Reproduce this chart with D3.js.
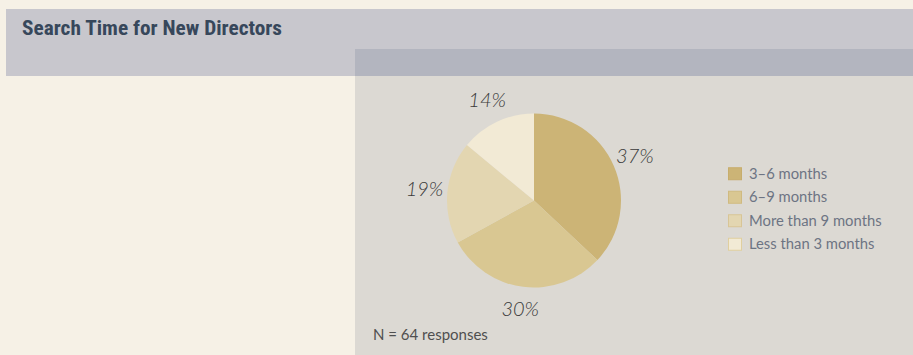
<!DOCTYPE html>
<html><head><meta charset="utf-8">
<script src="https://cdn.jsdelivr.net/npm/d3@7"></script>
<style>body{margin:0;background:#f6f1e6;}svg{display:block;}</style>
</head><body>
<svg id="c" width="913" height="355"></svg>
<script>
const title = "Search Time for New Directors";
const categories = ["3–6 months", "6–9 months", "More than 9 months", "Less than 3 months"];
const values = [37, 30, 19, 14];
const colors = ["#ccb476", "#d9c792", "#e3d6b1", "#f2ead5"];
const strokes = ["#c7ad6c", "#d0ba80", "#d8c596", "#e0cf9f"];
const note = "N = 64 responses";

const svg = d3.select("#c");
svg.append("rect").attr("x",0).attr("y",0).attr("width",913).attr("height",355).attr("fill","#f6f1e6");
svg.append("rect").attr("x",6).attr("y",9).attr("width",907).attr("height",67).attr("fill","#c8c7cd");
svg.append("rect").attr("x",355).attr("y",49).attr("width",558).attr("height",27).attr("fill","#b3b5bf");
svg.append("rect").attr("x",355).attr("y",76).attr("width",558).attr("height",279).attr("fill","#dcd9d3");

svg.append("text").attr("x",22).attr("y",35).text(title)
  .attr("font-family","'Liberation Sans Narrow','Roboto Condensed','Liberation Sans',sans-serif")
  .attr("font-weight","bold").attr("font-size",21).attr("fill","#37475b")
  .attr("textLength",260).attr("lengthAdjust","spacingAndGlyphs");

const cx = 534, cy = 200.5, R = 87;
const pie = d3.pie().sort(null).value(d=>d)(values);
const arc = d3.arc().innerRadius(0).outerRadius(R);
const labelArc = d3.arc().innerRadius(110).outerRadius(110);
const g = svg.append("g").attr("transform",`translate(${cx},${cy})`);
g.selectAll("path").data(pie).join("path").attr("d",arc).attr("fill",(d,i)=>colors[i]);
g.selectAll("text").data(pie).join("text")
  .attr("transform",d=>`translate(${labelArc.centroid(d)})`)
  .attr("text-anchor","middle").attr("dy","0.3em")
  .attr("font-family","Lato,'Open Sans',sans-serif").attr("font-style","italic").attr("font-weight",300)
  .attr("font-size",20).attr("fill","#3a3a3a")
  .text(d=>d.data+"%");

const y = d3.scaleBand().domain(categories).range([162, 256]).paddingInner(0);
const lg = svg.append("g");
const rows = lg.selectAll("g").data(categories).join("g")
  .attr("transform",d=>`translate(728,${y(d)+y.bandwidth()/2})`);
rows.append("rect").attr("x",0.5).attr("y",-6).attr("width",13).attr("height",12)
  .attr("fill",(d,i)=>colors[i]).attr("stroke",(d,i)=>strokes[i]).attr("stroke-width",1);
rows.append("text").attr("x",21).attr("dy","0.35em").text(d=>d)
  .attr("font-family","Lato,'Open Sans',sans-serif").attr("font-size",14.8).attr("fill","#6d7483");

svg.append("text").attr("x",373).attr("y",340).text(note)
  .attr("font-family","Lato,'Open Sans',sans-serif").attr("font-size",15).attr("fill","#4f4f4f");
</script>
</body></html>
